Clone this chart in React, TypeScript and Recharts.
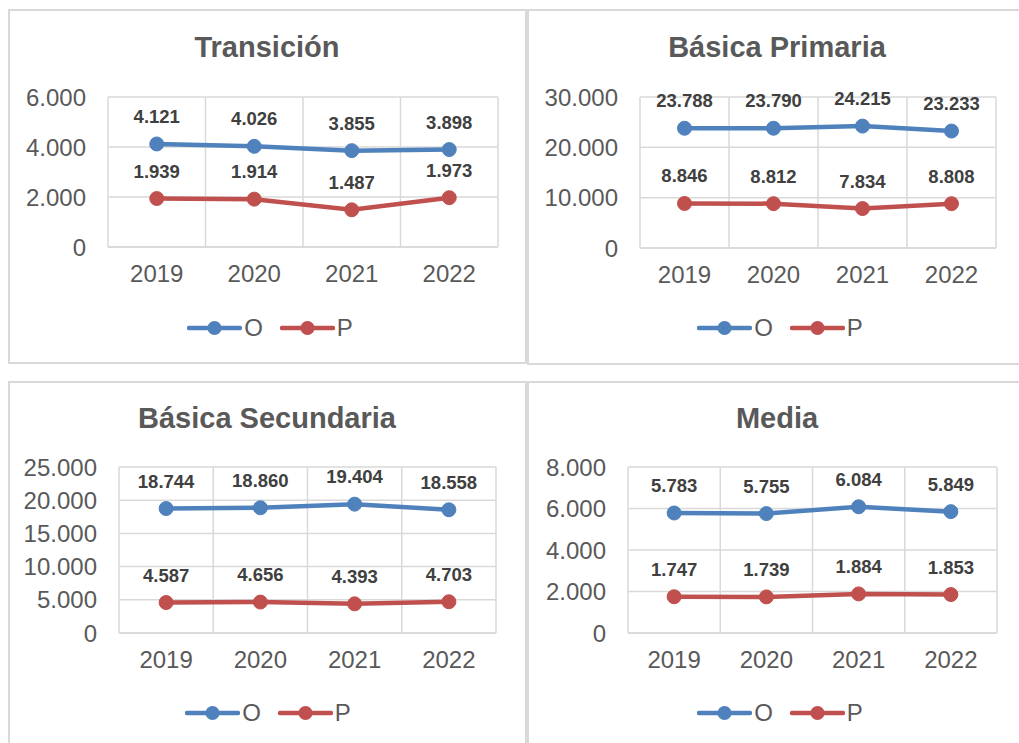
import React from 'react';
import { LineChart, Line, XAxis, YAxis, CartesianGrid, Legend, LabelList } from 'recharts';

const years = ['2019', '2020', '2021', '2022'];

const transicionO = [4121, 4026, 3855, 3898];
const transicionP = [1939, 1914, 1487, 1973];
const transicionTicks = [0, 2000, 4000, 6000];

const primariaO = [23788, 23790, 24215, 23233];
const primariaP = [8846, 8812, 7834, 8808];
const primariaTicks = [0, 10000, 20000, 30000];

const secundariaO = [18744, 18860, 19404, 18558];
const secundariaP = [4587, 4656, 4393, 4703];
const secundariaTicks = [0, 5000, 10000, 15000, 20000, 25000];

const mediaO = [5783, 5755, 6084, 5849];
const mediaP = [1747, 1739, 1884, 1853];
const mediaTicks = [0, 2000, 4000, 6000, 8000];

const BLUE = '#4f81bd';
const RED = '#c0504d';
const GRID = '#d9d9d9';
const TEXT = '#595959';
const FONT = '"Liberation Sans", Arial, sans-serif';

const Y_AXIS_W = 80;
const LEGEND_H = 26;

// 1.234 style thousands separator
const fmt = (v: number) => String(v).replace(/\B(?=(\d{3})+(?!\d))/g, '.');

const renderLegend = (props: any) => (
    <div style={{ display: 'flex', justifyContent: 'center', alignItems: 'center', height: LEGEND_H }}>
        {(props.payload || []).map((entry: any, i: number) => (
            <div key={entry.value} style={{ display: 'flex', alignItems: 'center', marginLeft: i ? 17 : 0 }}>
                <svg width={55} height={16}>
                    <line x1={2} y1={8} x2={53} y2={8} stroke={entry.color} strokeWidth={4.5} strokeLinecap="round" />
                    <circle cx={27.5} cy={8} r={7} fill={entry.color} />
                </svg>
                <span style={{ marginLeft: 2, fontSize: 24, color: TEXT, fontFamily: FONT, lineHeight: LEGEND_H + 'px' }}>
                    {entry.value}
                </span>
            </div>
        ))}
    </div>
);

interface PanelProps {
    title: string;
    box: number[]; // x, y, w, h (page)
    plot: number[]; // left, right, top, bottom (page)
    titleAt: number[];
    legendAt: number[];
    o: number[];
    p: number[];
    ticks: number[];
}

const Panel: React.FC<PanelProps> = ({ title, box, plot, titleAt, legendAt, o, p, ticks }) => {
    const [bx, by, bw, bh] = box;
    const [pl, pr, pt, pb] = plot;
    const data = years.map((year, i) => ({ year, O: o[i], P: p[i] }));
    const margin = {
        top: pt - by,
        left: pl - bx - Y_AXIS_W,
        right: bx + bw - pr,
        bottom: by + bh - legendAt[1] - LEGEND_H / 2,
    };
    const xAxisH = legendAt[1] - LEGEND_H / 2 - pb;
    const labelProps = { fill: '#404040', fontSize: 18.5, fontWeight: 700, fontFamily: FONT };

    return (
        <div style={{ position: 'absolute', left: bx, top: by, width: bw, height: bh }}>
            <div style={{ position: 'absolute', inset: 0, border: `2px solid ${GRID}`, boxSizing: 'border-box' }} />
            <div
                style={{
                    position: 'absolute',
                    left: titleAt[0] - bx - 200,
                    width: 400,
                    top: titleAt[1] - by - 17,
                    lineHeight: '34px',
                    textAlign: 'center',
                    fontSize: 29,
                    fontWeight: 700,
                    color: TEXT,
                    fontFamily: FONT,
                }}
            >
                {title}
            </div>
            <div style={{ position: 'absolute', left: 0, top: 0 }}>
                <LineChart width={bw} height={bh} data={data} margin={margin}>
                    <CartesianGrid
                        stroke={GRID}
                        strokeWidth={1.5}
                        verticalCoordinatesGenerator={({ offset }: any) =>
                            Array.from({ length: years.length + 1 }, (_, i) => offset.left + (i * offset.width) / years.length)
                        }
                    />
                    <XAxis
                        dataKey="year"
                        scale="band"
                        height={xAxisH}
                        axisLine={{ stroke: GRID, strokeWidth: 1.5 }}
                        tickLine={false}
                        tickMargin={12}
                        tick={{ fill: TEXT, fontSize: 24, fontFamily: FONT }}
                    />
                    <YAxis
                        width={Y_AXIS_W}
                        domain={[0, ticks[ticks.length - 1]]}
                        ticks={ticks}
                        interval={0}
                        axisLine={false}
                        tickLine={false}
                        tickMargin={16}
                        tickFormatter={fmt}
                        tick={{ fill: TEXT, fontSize: 24, fontFamily: FONT }}
                    />
                    <Legend
                        verticalAlign="bottom"
                        content={renderLegend}
                        wrapperStyle={{ left: legendAt[0] - bx - 150, width: 300 }}
                    />
                    <Line
                        type="linear"
                        dataKey="O"
                        stroke={BLUE}
                        strokeWidth={4.5}
                        dot={{ r: 7, fill: BLUE, stroke: BLUE, strokeWidth: 1 }}
                        isAnimationActive={false}
                    >
                        <LabelList dataKey="O" position="top" offset={21} formatter={fmt} {...labelProps} />
                    </Line>
                    <Line
                        type="linear"
                        dataKey="P"
                        stroke={RED}
                        strokeWidth={4.5}
                        dot={{ r: 7, fill: RED, stroke: RED, strokeWidth: 1 }}
                        isAnimationActive={false}
                    >
                        <LabelList dataKey="P" position="top" offset={21} formatter={fmt} {...labelProps} />
                    </Line>
                </LineChart>
            </div>
        </div>
    );
};

export default function App() {
    return (
        <div style={{ position: 'fixed', left: 0, top: 0, width: 1019, height: 743, overflow: 'hidden', background: '#fff' }}>
            <Panel
                title="Transición"
                box={[8, 9, 519, 355]}
                plot={[108, 498, 97, 247]}
                titleAt={[267, 47]}
                legendAt={[270, 328]}
                o={transicionO}
                p={transicionP}
                ticks={transicionTicks}
            />
            <Panel
                title="Básica Primaria"
                box={[527, 9, 520, 356]}
                plot={[640, 996, 97, 248]}
                titleAt={[777, 47]}
                legendAt={[780, 328]}
                o={primariaO}
                p={primariaP}
                ticks={primariaTicks}
            />
            <Panel
                title="Básica Secundaria"
                box={[8, 381, 519, 400]}
                plot={[119, 496, 467, 633]}
                titleAt={[267, 418]}
                legendAt={[268, 713]}
                o={secundariaO}
                p={secundariaP}
                ticks={secundariaTicks}
            />
            <Panel
                title="Media"
                box={[527, 381, 520, 400]}
                plot={[628, 997, 467, 633]}
                titleAt={[777, 418]}
                legendAt={[780, 713]}
                o={mediaO}
                p={mediaP}
                ticks={mediaTicks}
            />
        </div>
    );
}
